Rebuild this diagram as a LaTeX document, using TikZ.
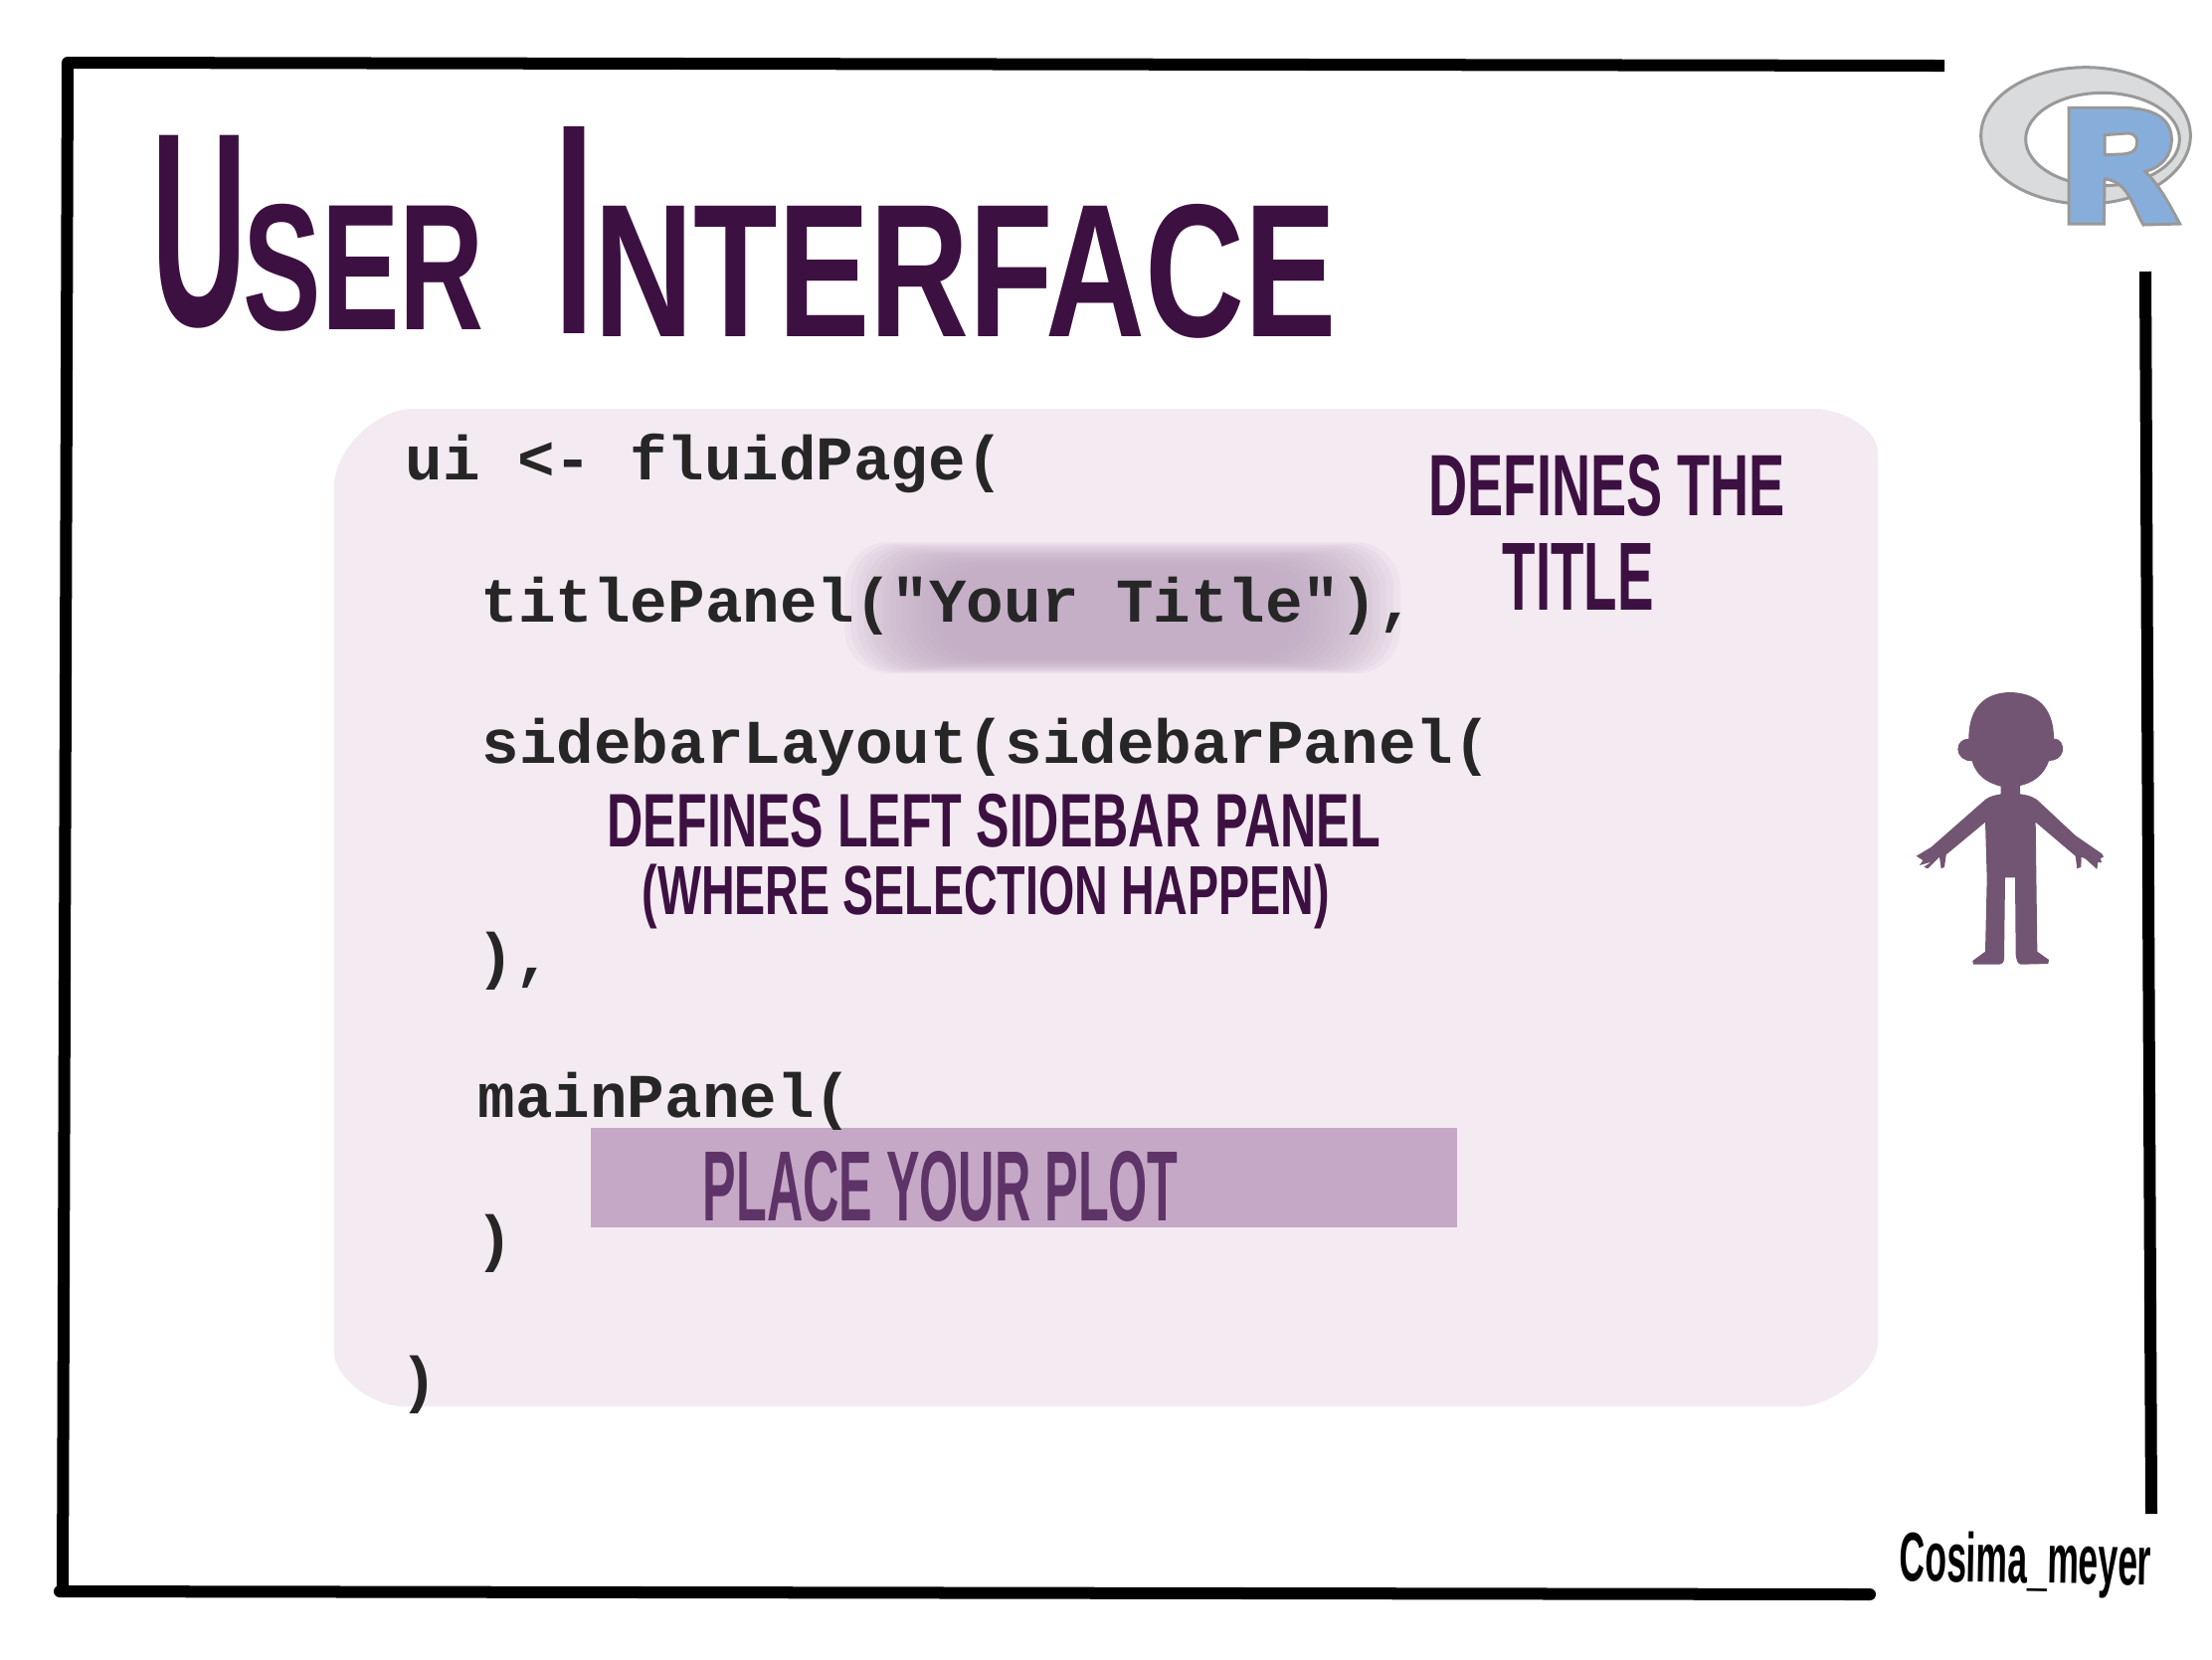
\documentclass[tikz,border=0pt]{standalone}
\usepackage{fontspec}
\setmainfont{Liberation Sans}
\setmonofont{Liberation Mono}
\usepackage{tikz}
\usetikzlibrary{positioning}

\definecolor{plum}{HTML}{3D1042}
\definecolor{plumsoft}{HTML}{5E3468}
\definecolor{panelbg}{HTML}{F4EAF2}
\definecolor{plotbg}{HTML}{C5A8C6}
\definecolor{glowbg}{HTML}{BFA8C2}
\definecolor{figure}{HTML}{725572}
\definecolor{ringgray}{HTML}{DADBDD}
\definecolor{ringline}{HTML}{999999}
\definecolor{rblue}{HTML}{87AEDB}

\newdimen\pxunit
\pxunit=0.01cm
\newcommand{\hand}[3]{\resizebox*{#1\pxunit}{#2\pxunit}{\bfseries #3}}

\tikzset{
    frameline/.style={line width=0.12cm, line join=round, black},
    code/.style={anchor=base west, inner sep=0pt, text=black!85, font=\fontsize{17.8pt}{20pt}\ttfamily\bfseries},
    handnote/.style={anchor=north west, inner sep=0pt, text=plum},
}

\begin{document}
\begin{tikzpicture}[x=0.01cm, y=-0.01cm]
    \useasboundingbox (0,0) rectangle (2224,1668);

    % frame
    \draw[frameline] (1955,66) -- (68,63) -- (63,1600);
    \draw[frameline, line cap=round] (60,1600) -- (1880,1603);
    \draw[frameline] (2157,273) -- (2163,1522);

    % title
    \node(u)[handnote] at (152,135) {\hand{96}{194}{U}};
    \node(ser)[handnote] at (244,205) {\hand{242}{128}{SER}};
    \node(i)[handnote] at (557,127) {\hand{40}{208}{I}};
    \node(nterface)[handnote] at (597,205) {\hand{746}{135}{NTERFACE}};

    % code panel
    \fill[panelbg] (336,490) .. controls (336,450) and (380,411) .. (415,411)
        -- (1825,411) .. controls (1850,411) and (1888,430) .. (1888,455)
        -- (1888,1350) .. controls (1888,1380) and (1840,1414) .. (1810,1414)
        -- (405,1414) .. controls (375,1414) and (336,1385) .. (336,1360) -- cycle;
    \foreach \i in {0,...,15}
        \fill[glowbg, opacity=0.11, rounded corners=0.45cm]
            (849+6.5*\i,545+1.6*\i) rectangle (1408-7*\i,677-1*\i);
    \fill[plotbg] (594,1134) rectangle (1465,1234);

    \node(ui)[code] at (407,482) {ui <- fluidPage(};
    \node(titlepanel)[code] at (483,625) {titlePanel("Your Title"),};
    \node(sidebar)[code] at (484,767) {sidebarLayout(sidebarPanel(};
    \node(sideclose)[code] at (479,982) {),};
    \node(mainpanel)[code] at (480,1123) {mainPanel(};
    \node(mainclose)[code] at (478,1266) {)};
    \node(uiclose)[code] at (402,1408) {)};

    % notes
    \node(note1)[handnote] at (1436,457) {\hand{358}{62}{DEFINES THE}};
    \node(note2)[handnote] at (1510,546) {\hand{152}{67}{TITLE}};
    \node(note3)[handnote] at (610,798) {\hand{777}{54}{DEFINES LEFT SIDEBAR PANEL}};
    \node(note4)[handnote] at (645,868) {\hand{691}{65}{(WHERE SELECTION HAPPEN)}};
    \node(note5)[handnote, text=plumsoft] at (706,1157) {\hand{478}{71}{PLACE YOUR PLOT}};
    \node(sign)[handnote, text=black, rotate=-1] at (1910,1538) {\hand{253}{65}{Cosima\_meyer}};

    % R logo
    \begin{scope}[shift={(1900,40)}, scale=1/3]
        \fill[ringgray, draw=ringline, line width=0.03cm, even odd rule]
            (591,289) ellipse [x radius=316, y radius=206]
            (642,300) ellipse [x radius=232, y radius=140];
        \fill[rblue, draw=ringline, line width=0.03cm, even odd rule]
            (540,205) -- (700,205) .. controls (800,205) and (850,240) .. (850,300)
            .. controls (850,350) and (820,385) .. (770,397)
            .. controls (815,440) and (845,500) .. (875,555) -- (765,558)
            .. controls (735,510) and (720,425) .. (648,420) -- (646,555) -- (540,555) -- cycle
            (648,287) -- (715,282) .. controls (745,282) and (748,300) .. (745,318)
            .. controls (740,340) and (725,343) .. (700,345) -- (648,347) -- cycle;
    \end{scope}

    % figure
    \begin{scope}[shift={(1900,670)}, scale=1/3]
        \fill[figure] (365,78) .. controls (440,80) and (495,120) .. (495,218)
            .. controls (515,216) and (525,238) .. (522,255)
            .. controls (518,275) and (500,285) .. (480,285)
            .. controls (465,330) and (430,352) .. (393,360)
            -- (393,385) .. controls (420,388) and (440,395) .. (455,412)
            -- (560,510) -- (640,565) -- (645,574) -- (635,580) -- (640,592) -- (628,590)
            -- (625,612) -- (590,580) -- (578,575) -- (577,605) -- (565,610) -- (560,572)
            -- (440,470) -- (445,860) -- (480,885) -- (478,897) -- (395,899)
            .. controls (385,897) and (382,885) .. (380,870)
            -- (378,637) -- (348,637) -- (345,880)
            .. controls (345,892) and (340,897) .. (330,899)
            -- (252,899) -- (250,888) -- (288,860) -- (293,640) -- (288,470)
            -- (170,568) -- (165,605) -- (155,610) -- (150,575) -- (115,610) -- (103,605)
            -- (125,590) -- (90,600) -- (100,585) -- (80,572) -- (125,545)
            -- (290,400) .. controls (305,390) and (320,388) .. (335,385)
            -- (335,362) .. controls (295,352) and (260,330) .. (248,285)
            .. controls (225,288) and (205,270) .. (205,250)
            .. controls (205,230) and (220,218) .. (238,218)
            .. controls (238,120) and (290,78) .. (365,78) -- cycle;
    \end{scope}
\end{tikzpicture}
\end{document}
